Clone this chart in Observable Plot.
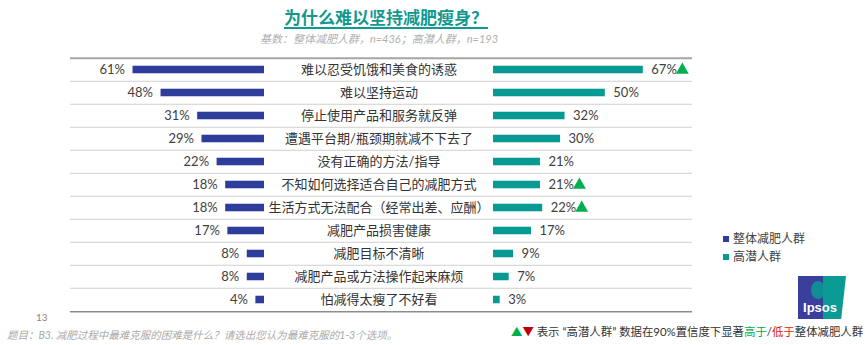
<!DOCTYPE html>
<html><head><meta charset="utf-8">
<script src="https://cdn.jsdelivr.net/npm/d3@7"></script>
<script src="https://cdn.jsdelivr.net/npm/@observablehq/plot@0.6"></script>
<style>
body{margin:0;width:865px;height:345px;position:relative;background:#fff;font-family:Lato,"Noto Sans CJK SC",sans-serif;overflow:hidden}
.abs{position:absolute;white-space:nowrap}
</style></head><body>
<div class="abs" style="left:0;width:772px;top:4px;text-align:center;font-size:17px;font-weight:bold;color:#11998f;"><span style="text-decoration:underline;text-underline-offset:3px;text-decoration-thickness:2px">为什么难以坚持减肥瘦身？</span></div>
<div class="abs" style="left:0;width:758px;top:30px;text-align:center;font-size:11px;font-style:italic;color:#b0b0b0;">基数：整体减肥人群，n=436；高潜人群，n=193</div>
<div id="left" class="abs" style="left:70px;top:53px"></div>
<div id="mid" class="abs" style="left:264px;top:53px"></div>
<div id="right" class="abs" style="left:493px;top:53px"></div>
<div id="legend" class="abs" style="left:723px;top:230px;font-size:12px;color:#404040;line-height:18px"></div>
<div class="abs" style="left:798px;top:276px;width:48px;height:43px;background:linear-gradient(90deg,#3a3f9b 0 52%,#0a9b94 52% 100%);clip-path:polygon(0 0,100% 0,90% 100%,0 100%)">
  <div style="position:absolute;left:13px;top:5px;width:13px;height:18px;border-radius:50% 45% 40% 50%;background:#0a9b94;opacity:.85"></div>
  <div style="position:absolute;left:0;width:44px;top:24px;text-align:center;color:#fff;font-weight:bold;font-size:13px;font-family:'Liberation Sans',sans-serif">Ipsos</div>
</div>
<div class="abs" style="left:36px;top:311px;font-size:10px;color:#888">13</div>
<div class="abs" style="left:7px;top:327px;font-size:10.5px;font-style:italic;color:#aaaaaa">题目：B3. 减肥过程中最难克服的困难是什么？请选出您认为最难克服的1-3个选项。</div>
<div class="abs" style="left:511px;top:323px;font-size:11.4px;color:#333"><span style="color:#00b050">▲</span><span style="color:#c00000">▼</span> 表示 “高潜人群” 数据在90%置信度下显著<span style="color:#00b050">高于</span>/<span style="color:#e02020">低于</span>整体减肥人群</div>
<script>
const categories = ["难以忍受饥饿和美食的诱惑","难以坚持运动","停止使用产品和服务就反弹","遭遇平台期/瓶颈期就减不下去了","没有正确的方法/指导","不知如何选择适合自己的减肥方式","生活方式无法配合（经常出差、应酬）","减肥产品损害健康","减肥目标不清晰","减肥产品或方法操作起来麻烦","怕减得太瘦了不好看"];
const overall = [61,48,31,29,22,18,18,17,8,8,4];
const highPotential = [67,50,32,30,21,21,22,17,9,7,3];
const significance = ["up","","","","","up","up","","","",""];
const seriesNames = ["整体减肥人群","高潜人群"];
const colors = ["#2e3d9b","#069a93"];

const rows = categories.map((c,i)=>({cat:c, overall:overall[i], high:highPotential[i], sig:significance[i]}));
const H = 262, mt = 2, mb = 2;
const bw = (H-mt-mb)/categories.length;
const inset = (bw-8)/2;
const font = 'Lato,"Noto Sans CJK SC",sans-serif';
const yScale = {type:"band", domain:categories, padding:0, axis:null};
const rules = [
  Plot.ruleY(rows.slice(1), {y:"cat", dy:-bw/2, stroke:"#d0d0d0", strokeWidth:1}),
  Plot.ruleY(rows.slice(0,1), {y:"cat", dy:-bw/2, stroke:"#a6a6a6", strokeWidth:2}),
  Plot.ruleY(rows.slice(-1), {y:"cat", dy:bw/2, stroke:"#8c8c8c", strokeWidth:1.5})
];

const left = Plot.plot({
  width:194, height:H, marginTop:mt, marginBottom:mb, marginLeft:0, marginRight:0,
  style:{fontFamily:font, background:"transparent", overflow:"visible"},
  x:{domain:[90,0], axis:null}, y:yScale,
  marks:[
    ...rules,
    Plot.barX(rows, {y:"cat", x1:0, x2:"overall", fill:colors[0], insetTop:inset, insetBottom:inset}),
    Plot.text(rows, {y:"cat", x:"overall", text:d=>d.overall+"%", textAnchor:"end", dx:-8, fontSize:13, fill:"#404040"})
  ]
});
document.getElementById("left").append(left);

const mid = Plot.plot({
  width:229, height:H, marginTop:mt, marginBottom:mb, marginLeft:0, marginRight:0,
  style:{fontFamily:font, background:"transparent", overflow:"visible"},
  x:{axis:null}, y:yScale,
  marks:[
    ...rules,
    Plot.text(rows, {y:"cat", text:"cat", frameAnchor:"middle", fontSize:13, fill:"#333"})
  ]
});
document.getElementById("mid").append(mid);

const right = Plot.plot({
  width:199, height:H, marginTop:mt, marginBottom:mb, marginLeft:0, marginRight:0,
  style:{fontFamily:font, background:"transparent", overflow:"visible"},
  x:{domain:[0,89], axis:null}, y:yScale,
  marks:[
    ...rules,
    Plot.barX(rows, {y:"cat", x1:0, x2:"high", fill:colors[1], insetTop:inset, insetBottom:inset}),
    Plot.text(rows, {y:"cat", x:"high", text:d=>d.high+"%", textAnchor:"start", dx:8, fontSize:13, fill:"#404040"}),
    Plot.dot(rows.filter(d=>d.sig==="up"), {y:"cat", x:"high", dx:39, symbol:"triangle", r:4.8, fill:"#00b050", stroke:null})
  ]
});
document.getElementById("right").append(right);

const lg = document.getElementById("legend");
seriesNames.forEach((n,i)=>{
  const d = document.createElement("div");
  d.innerHTML = `<span style="display:inline-block;width:6px;height:6px;background:${colors[i]};margin-right:4px;vertical-align:middle;position:relative;top:-1px"></span>${n}`;
  lg.append(d);
});
</script>
</body></html>
